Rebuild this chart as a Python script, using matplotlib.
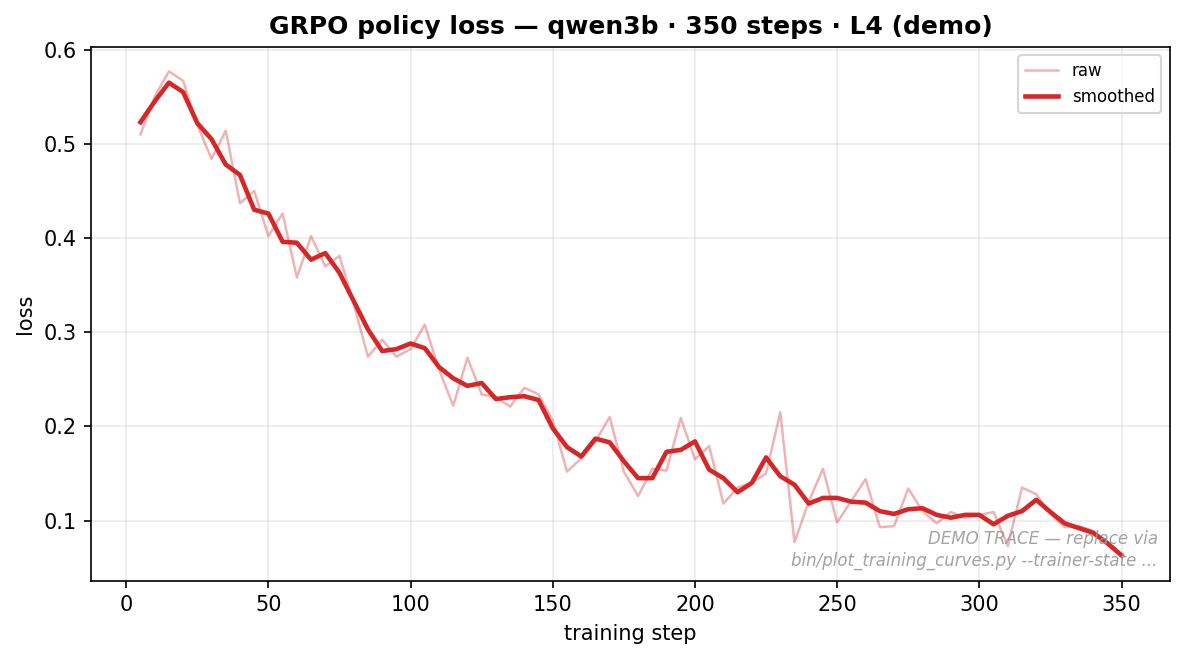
import numpy as np
import matplotlib
matplotlib.use("Agg")
import matplotlib.pyplot as plt

steps = np.arange(5, 355, 5)
raw_loss = [
    0.510, 0.550, 0.577, 0.567, 0.520, 0.484, 0.514, 0.437, 0.450, 0.402,
    0.426, 0.358, 0.402, 0.370, 0.381, 0.330, 0.274, 0.292, 0.274, 0.282,
    0.308, 0.260, 0.222, 0.273, 0.234, 0.231, 0.221, 0.241, 0.234, 0.206,
    0.152, 0.166, 0.184, 0.210, 0.152, 0.126, 0.155, 0.153, 0.209, 0.165,
    0.179, 0.118, 0.135, 0.140, 0.150, 0.215, 0.077, 0.120, 0.155, 0.098,
    0.121, 0.144, 0.093, 0.094, 0.134, 0.110, 0.097, 0.109, 0.103, 0.106,
    0.109, 0.073, 0.135, 0.128, 0.107, 0.093, 0.094, 0.089, 0.075, 0.063,
]
smoothed_loss = [
    0.523, 0.545, 0.565, 0.555, 0.522, 0.505, 0.478, 0.467, 0.430, 0.426,
    0.396, 0.395, 0.377, 0.384, 0.363, 0.333, 0.303, 0.280, 0.282, 0.288,
    0.283, 0.263, 0.251, 0.243, 0.246, 0.229, 0.231, 0.232, 0.228, 0.198,
    0.178, 0.168, 0.187, 0.183, 0.163, 0.145, 0.145, 0.173, 0.175, 0.184,
    0.154, 0.145, 0.130, 0.140, 0.167, 0.147, 0.138, 0.118, 0.124, 0.124,
    0.120, 0.119, 0.110, 0.107, 0.112, 0.113, 0.106, 0.103, 0.106, 0.106,
    0.096, 0.105, 0.110, 0.122, 0.109, 0.097, 0.092, 0.087, 0.076, 0.063,
]

RED = "#d62728"

fig, ax = plt.subplots(figsize=(7.9, 4.4), dpi=150)
ax.plot(steps, raw_loss, color=RED, alpha=0.35, lw=1.2, label="raw")
ax.plot(steps, smoothed_loss, color=RED, lw=2.2, label="smoothed")
ax.set_xlim(-12.3, 366.9)
ax.set_ylim(0.036, 0.603)
ax.set_xlabel("training step")
ax.set_ylabel("loss")
ax.set_title("GRPO policy loss — qwen3b · 350 steps · L4 (demo)", fontweight="bold")
ax.grid(True, alpha=0.25)
ax.legend(fontsize=8, loc="upper right")
ax.text(0.989, 0.02, "DEMO TRACE — replace via\nbin/plot_training_curves.py --trainer-state ...",
        transform=ax.transAxes, ha="right", va="bottom", fontsize=8,
        style="italic", color="#999999", alpha=0.9, linespacing=1.3)
fig.subplots_adjust(left=0.077, right=0.987, top=0.929, bottom=0.120)
fig.savefig("out.png", dpi=150)
